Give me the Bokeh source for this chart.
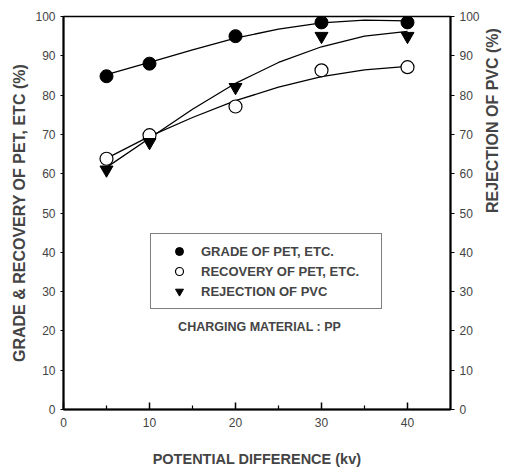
import math
from bokeh.plotting import figure
from bokeh.models import (LinearAxis, Range1d, Legend, LegendItem, Label,
                          FixedTicker, ColumnDataSource)
from bokeh.embed import file_html
from bokeh.resources import INLINE

# measured points
kv = [5, 10, 20, 30, 40]
grade = [84.8, 88.0, 95.0, 98.5, 98.5]
recovery = [63.8, 69.8, 77.1, 86.3, 87.1]
rejection = [61.0, 68.0, 82.0, 95.0, 95.0]

# fitted curves
curve_kv = [5, 10, 15, 20, 25, 30, 35, 40]
grade_fit = [85.2, 88.3, 91.5, 94.5, 96.8, 98.4, 99.1, 98.9]
recovery_fit = [63.9, 69.5, 74.3, 78.6, 82.0, 84.7, 86.4, 87.3]
rejection_fit = [61.6, 69.0, 76.4, 83.0, 88.3, 92.3, 95.0, 96.2]

x_ticks = [0, 10, 20, 30, 40]
x_minor = [5, 15, 25, 35]
y_ticks = [0, 10, 20, 30, 40, 50, 60, 70, 80, 90, 100]

FONT = "Liberation Sans"

p = figure(width=512, height=472, x_range=(0, 45), y_range=(0, 100),
           output_backend="svg", toolbar_location=None,
           min_border_left=63, min_border_right=57, min_border_top=16,
           min_border_bottom=63)
p.background_fill_color = "white"
p.border_fill_color = "white"
p.grid.visible = False
p.outline_line_color = "black"
p.outline_line_width = 1.5

pts = ColumnDataSource(dict(kv=kv, grade=grade, recovery=recovery, rejection=rejection))
fit = ColumnDataSource(dict(kv=curve_kv, grade=grade_fit, recovery=recovery_fit,
                            rejection=rejection_fit))

for col in ["grade", "recovery", "rejection"]:
    p.line("kv", col, source=fit, line_color="black", line_width=1.3)

r_grade = p.scatter("kv", "grade", source=pts, marker="circle", size=13,
                    fill_color="black", line_color="black")
r_rec = p.scatter("kv", "recovery", source=pts, marker="circle", size=13,
                  fill_color="white", line_color="black", line_width=1.2)
r_rej = p.scatter("kv", "rejection", source=pts, marker="inverted_triangle", size=13,
                  fill_color="black", line_color="black")

# axes
xa = p.xaxis[0]
xa.ticker = FixedTicker(ticks=x_ticks, minor_ticks=x_minor)
xa.major_tick_in = 7
xa.major_tick_out = 0
xa.minor_tick_in = 4
xa.minor_tick_out = 0
xa.axis_line_width = 2
xa.major_tick_line_width = 1.5
xa.minor_tick_line_width = 1.2
xa.major_label_standoff = 8
xa.major_label_text_font = FONT
xa.major_label_text_font_size = "12px"
xa.axis_label = "POTENTIAL DIFFERENCE (kv)"
xa.axis_label_text_font = FONT
xa.axis_label_text_font_size = "14.5px"
xa.axis_label_text_font_style = "bold"
xa.axis_label_standoff = 21

ya = p.yaxis[0]
ya.ticker = FixedTicker(ticks=y_ticks, minor_ticks=[])
ya.major_tick_in = 0
ya.major_tick_out = 3
ya.minor_tick_in = 0
ya.minor_tick_out = 0
ya.axis_line_width = 2
ya.major_label_standoff = 5
ya.major_label_text_font = FONT
ya.major_label_text_font_size = "12px"
ya.axis_label = "GRADE & RECOVERY OF PET, ETC (%)"
ya.axis_label_text_font = FONT
ya.axis_label_text_font_size = "16px"
ya.axis_label_text_font_style = "bold"
ya.axis_label_standoff = 4

p.extra_y_ranges = {"right": Range1d(0, 100)}
ra = LinearAxis(y_range_name="right", ticker=FixedTicker(ticks=y_ticks, minor_ticks=[]))
ra.major_tick_in = 0
ra.major_tick_out = 4
ra.minor_tick_in = 0
ra.minor_tick_out = 0
ra.axis_line_width = 2
ra.major_label_standoff = 5
ra.major_label_text_font = FONT
ra.major_label_text_font_size = "12px"
ra.axis_label = "REJECTION OF PVC (%)"
ra.axis_label_orientation = math.pi / 2
ra.axis_label_text_font = FONT
ra.axis_label_text_font_size = "16px"
ra.axis_label_text_font_style = "bold"
ra.axis_label_standoff = 10
p.add_layout(ra, "right")

legend = Legend(items=[
    LegendItem(label="GRADE OF PET, ETC.", renderers=[r_grade]),
    LegendItem(label="RECOVERY OF PET, ETC.", renderers=[r_rec]),
    LegendItem(label="REJECTION OF PVC", renderers=[r_rej]),
], location=(87, 100))
legend.glyph_width = 42
legend.glyph_height = 20
legend.label_height = 20
legend.label_width = 173
legend.spacing = 0
legend.padding = 7
legend.margin = 0
legend.label_standoff = 1
legend.label_text_font = FONT
legend.label_text_font_size = "13px"
legend.label_text_font_style = "bold"
legend.border_line_color = "black"
legend.border_line_width = 1
legend.background_fill_alpha = 1
p.add_layout(legend)

p.add_layout(Label(x=22.8, y=21, text="CHARGING MATERIAL : PP", text_font=FONT,
                   text_font_size="12.5px", text_font_style="bold",
                   text_align="center", text_baseline="middle"))

open("out.html", "w").write(file_html(p, INLINE))
